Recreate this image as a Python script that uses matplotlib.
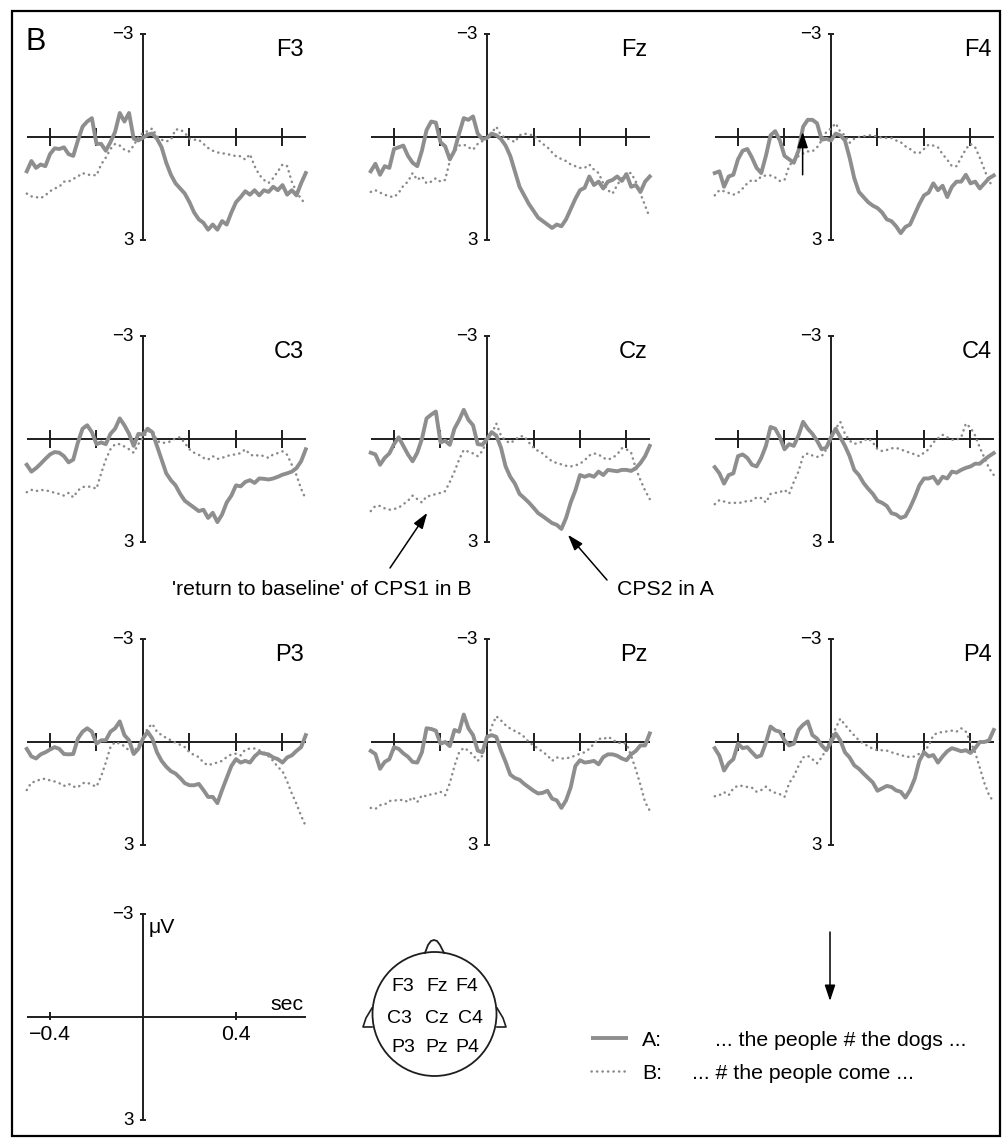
import numpy as np
import matplotlib.pyplot as plt
from matplotlib.patches import Circle, Rectangle

plt.rcParams['font.family'] = ['Liberation Sans', 'DejaVu Sans']

W, H = 1003, 1138

# sampling times in seconds (20 ms steps), amplitudes in microvolts (negative up)
time_s = np.round(np.arange(-0.50, 0.701, 0.02), 2)

electrodes = [["F3", "Fz", "F4"], ["C3", "Cz", "C4"], ["P3", "Pz", "P4"]]

f3_a = [1.0, 0.7, 0.9, 0.8, 0.85, 0.5, 0.33, 0.35, 0.3, 0.5,
        0.55, 0.1, -0.3, -0.45, -0.55, 0.2, 0.2, 0.4, 0.15, -0.15,
        -0.7, -0.45, -0.7, 0.05, 0.1, 0.02, -0.07, -0.1, 0.05, 0.3,
        0.75, 1.1, 1.35, 1.5, 1.65, 1.9, 2.2, 2.4, 2.5, 2.7,
        2.55, 2.7, 2.45, 2.55, 2.2, 1.9, 1.75, 1.58, 1.68, 1.55,
        1.7, 1.55, 1.6, 1.45, 1.55, 1.4, 1.68, 1.55, 1.7, 1.35,
        1.05]
f3_b = [1.65, 1.73, 1.75, 1.78, 1.7, 1.58, 1.5, 1.45, 1.3, 1.3,
        1.22, 1.15, 1.05, 1.1, 1.1, 1.12, 0.8, 0.6, 0.35, 0.2,
        0.25, 0.37, 0.42, 0.25, 0.0, -0.12, -0.17, -0.25, -0.02, 0.08,
        0.13, 0.08, -0.22, -0.22, -0.12, 0.05, 0.08, 0.08, 0.2, 0.32,
        0.4, 0.45, 0.47, 0.5, 0.52, 0.56, 0.56, 0.66, 0.5, 0.85,
        1.1, 1.25, 1.34, 1.2, 1.0, 0.8, 0.85, 1.3, 1.6, 1.8,
        1.97]
fz_a = [1.0, 0.78, 1.1, 0.85, 0.9, 0.35, 0.3, 0.25, 0.55, 0.75,
        0.85, 0.4, -0.2, -0.45, -0.42, 0.15, 0.27, 0.65, 0.4, -0.1,
        -0.55, -0.5, -0.6, -0.1, 0.06, 0.03, -0.1, -0.05, 0.06, 0.25,
        0.55, 1.0, 1.45, 1.7, 1.95, 2.15, 2.35, 2.45, 2.55, 2.65,
        2.55, 2.6, 2.4, 2.1, 1.8, 1.55, 1.48, 1.15, 1.4, 1.3,
        1.5, 1.3, 1.25, 1.15, 1.28, 1.08, 1.45, 1.4, 1.6, 1.3,
        1.15]
fz_b = [1.6, 1.55, 1.62, 1.68, 1.73, 1.75, 1.63, 1.42, 1.3, 1.05,
        1.25, 1.15, 1.35, 1.3, 1.2, 1.3, 1.25, 0.7, 0.42, 0.25,
        0.22, 0.3, 0.37, 0.2, 0.12, 0.03, -0.12, -0.3, -0.05, 0.02,
        0.08, 0.15, -0.05, -0.1, -0.07, -0.05, 0.08, 0.2, 0.3, 0.45,
        0.58, 0.64, 0.7, 0.8, 0.85, 0.9, 0.9, 0.8, 0.95, 1.05,
        1.35, 1.55, 1.65, 1.4, 1.2, 1.05, 1.05, 1.3, 1.65, 2.0,
        2.35]
f4_a = [1.05, 1.0, 1.45, 1.15, 1.1, 0.65, 0.4, 0.35, 0.6, 0.9,
        1.05, 0.55, -0.05, -0.17, 0.1, 0.55, 0.65, 0.75, 0.4, -0.3,
        -0.5, -0.5, -0.4, 0.08, 0.05, 0.1, -0.1, -0.05, 0.1, 0.6,
        1.2, 1.6, 1.75, 1.9, 2.0, 2.07, 2.2, 2.4, 2.45, 2.6,
        2.8, 2.62, 2.55, 2.25, 1.95, 1.7, 1.62, 1.35, 1.55, 1.42,
        1.75, 1.45, 1.3, 1.3, 1.1, 1.35, 1.3, 1.5, 1.35, 1.2,
        1.12]
f4_b = [1.7, 1.55, 1.58, 1.63, 1.68, 1.63, 1.5, 1.35, 1.25, 1.28,
        1.15, 1.12, 1.12, 1.18, 1.28, 1.25, 0.85, 0.66, 0.56, 0.48,
        0.42, 0.42, 0.3, 0.1, -0.15, -0.25, -0.4, -0.15, -0.05, 0.17,
        0.05, 0.0, -0.02, -0.05, -0.05, 0.0, 0.02, 0.03, 0.03, 0.1,
        0.15, 0.27, 0.35, 0.45, 0.47, 0.35, 0.22, 0.25, 0.3, 0.5,
        0.66, 0.85, 0.85, 0.6, 0.35, 0.2, 0.3, 0.6, 0.95, 1.3,
        1.45]
c3_a = [0.75, 0.95, 0.85, 0.72, 0.58, 0.45, 0.38, 0.4, 0.5, 0.68,
        0.6, 0.1, -0.3, -0.4, -0.2, 0.15, 0.1, 0.15, -0.15, -0.3,
        -0.6, -0.4, -0.15, 0.2, -0.15, -0.13, -0.3, -0.2, 0.2, 0.6,
        1.0, 1.2, 1.35, 1.6, 1.8, 1.9, 2.0, 2.1, 2.06, 2.3,
        2.15, 2.42, 2.2, 1.85, 1.65, 1.35, 1.38, 1.25, 1.2, 1.28,
        1.15, 1.16, 1.18, 1.15, 1.1, 1.04, 1.0, 0.95, 0.85, 0.65,
        0.3]
c3_b = [1.55, 1.48, 1.52, 1.48, 1.5, 1.52, 1.57, 1.6, 1.65, 1.57,
        1.7, 1.5, 1.4, 1.38, 1.4, 1.45, 1.0, 0.6, 0.3, 0.15,
        0.15, 0.22, 0.3, 0.4, 0.15, -0.05, -0.2, -0.25, 0.05, 0.12,
        0.1, 0.07, -0.03, -0.05, 0.12, 0.3, 0.4, 0.46, 0.55, 0.6,
        0.5, 0.58, 0.55, 0.5, 0.46, 0.45, 0.41, 0.3, 0.45, 0.5,
        0.46, 0.5, 0.55, 0.45, 0.41, 0.36, 0.46, 0.75, 1.05, 1.45,
        1.75]
cz_a = [0.4, 0.45, 0.75, 0.55, 0.42, 0.15, -0.05, 0.2, 0.45, 0.65,
        0.4, 0.0, -0.6, -0.71, -0.8, 0.1, 0.05, 0.17, -0.3, -0.55,
        -0.85, -0.56, -0.4, 0.15, 0.17, 0.0, -0.2, -0.1, 0.25, 0.8,
        1.1, 1.3, 1.6, 1.72, 1.85, 2.0, 2.16, 2.25, 2.35, 2.45,
        2.5, 2.62, 2.3, 1.85, 1.5, 1.05, 1.1, 1.05, 1.1, 0.95,
        1.05, 0.9, 0.92, 0.94, 0.9, 0.9, 0.93, 0.85, 0.7, 0.5,
        0.2]
cz_b = [2.1, 1.95, 1.95, 2.02, 2.06, 2.04, 2.0, 1.9, 1.8, 1.65,
        1.75, 1.85, 1.67, 1.65, 1.6, 1.57, 1.52, 1.25, 0.95, 0.6,
        0.32, 0.37, 0.42, 0.5, 0.35, 0.05, -0.15, -0.45, -0.1, 0.05,
        0.12, 0.03, -0.08, -0.08, 0.1, 0.25, 0.35, 0.42, 0.55, 0.65,
        0.7, 0.74, 0.78, 0.8, 0.77, 0.72, 0.62, 0.48, 0.42, 0.45,
        0.55, 0.6, 0.55, 0.45, 0.27, 0.3, 0.4, 0.85, 1.2, 1.5,
        1.75]
c4_a = [0.82, 1.0, 1.3, 1.05, 1.0, 0.5, 0.45, 0.55, 0.75, 0.8,
        0.55, 0.2, -0.35, -0.3, -0.05, 0.3, 0.15, 0.2, -0.1, -0.5,
        -0.3, -0.15, 0.05, 0.3, 0.25, -0.05, -0.3, -0.05, 0.2, 0.5,
        0.9, 1.05, 1.28, 1.45, 1.6, 1.8, 1.86, 1.95, 2.16, 2.2,
        2.3, 2.25, 2.0, 1.7, 1.35, 1.15, 1.15, 1.1, 1.3, 1.1,
        1.15, 0.95, 0.98, 0.9, 0.84, 0.8, 0.72, 0.72, 0.6, 0.5,
        0.41]
c4_b = [1.9, 1.78, 1.82, 1.86, 1.86, 1.86, 1.85, 1.8, 1.8, 1.7,
        1.72, 1.85, 1.6, 1.57, 1.55, 1.48, 1.6, 1.25, 0.95, 0.5,
        0.42, 0.48, 0.52, 0.5, 0.3, 0.02, -0.3, -0.5, -0.15, 0.05,
        0.14, 0.12, 0.05, -0.02, 0.1, 0.3, 0.35, 0.32, 0.27, 0.26,
        0.3, 0.36, 0.4, 0.45, 0.5, 0.4, 0.3, 0.1, -0.02, -0.12,
        -0.05, 0.02, 0.02, -0.05, -0.45, -0.33, -0.1, 0.25, 0.55, 0.85,
        1.05]
p3_a = [0.2, 0.42, 0.48, 0.36, 0.3, 0.22, 0.15, 0.2, 0.35, 0.36,
        0.35, -0.1, -0.3, -0.4, -0.3, 0.05, -0.05, -0.05, -0.3, -0.4,
        -0.6, -0.2, -0.05, 0.35, 0.2, -0.1, -0.3, -0.1, 0.3, 0.55,
        0.72, 0.85, 0.92, 1.05, 1.2, 1.26, 1.26, 1.22, 1.4, 1.6,
        1.6, 1.78, 1.4, 1.05, 0.7, 0.5, 0.6, 0.55, 0.6, 0.42,
        0.3, 0.34, 0.36, 0.45, 0.5, 0.6, 0.45, 0.39, 0.26, 0.15,
        -0.2]
p3_b = [1.4, 1.18, 1.15, 1.08, 1.07, 1.12, 1.15, 1.2, 1.28, 1.22,
        1.3, 1.32, 1.2, 1.18, 1.25, 1.3, 1.0, 0.6, 0.15, 0.0,
        0.05, 0.12, 0.25, 0.3, 0.1, -0.1, -0.4, -0.53, -0.3, -0.2,
        -0.12, -0.05, 0.02, 0.08, 0.15, 0.3, 0.38, 0.44, 0.6, 0.68,
        0.63, 0.6, 0.55, 0.44, 0.36, 0.34, 0.39, 0.22, 0.19, 0.19,
        0.24, 0.3, 0.42, 0.55, 0.73, 0.85, 1.15, 1.5, 1.8, 2.15,
        2.45]
pz_a = [0.26, 0.35, 0.78, 0.58, 0.5, 0.15, 0.2, 0.33, 0.43, 0.58,
        0.6, 0.3, -0.4, -0.38, -0.33, 0.05, 0.0, 0.12, -0.35, -0.3,
        -0.8, -0.4, -0.2, 0.25, 0.3, -0.15, -0.2, -0.15, 0.25, 0.58,
        0.95, 1.05, 1.1, 1.22, 1.32, 1.42, 1.5, 1.48, 1.42, 1.65,
        1.7, 1.92, 1.7, 1.32, 0.7, 0.53, 0.6, 0.58, 0.55, 0.65,
        0.44, 0.36, 0.36, 0.4, 0.48, 0.53, 0.36, 0.26, 0.1, 0.1,
        -0.25]
pz_b = [1.92, 1.95, 1.84, 1.82, 1.72, 1.7, 1.7, 1.68, 1.75, 1.6,
        1.75, 1.55, 1.58, 1.52, 1.5, 1.45, 1.55, 1.2, 0.7, 0.3,
        0.17, 0.25, 0.38, 0.55, 0.4, -0.05, -0.45, -0.75, -0.63, -0.49,
        -0.39, -0.32, -0.25, -0.15, 0.0, 0.1, 0.19, 0.29, 0.39, 0.55,
        0.45, 0.48, 0.48, 0.44, 0.4, 0.34, 0.3, 0.2, 0.05, -0.1,
        -0.08, -0.15, -0.08, 0.03, 0.02, 0.05, 0.4, 0.8, 1.25, 1.75,
        2.0]
p4_a = [0.18, 0.4, 0.83, 0.62, 0.5, 0.05, 0.18, 0.15, 0.3, 0.44,
        0.39, 0.02, -0.45, -0.34, -0.3, -0.05, 0.1, 0.05, -0.35, -0.5,
        -0.6, -0.2, -0.1, 0.1, 0.24, 0.0, -0.25, -0.05, 0.3, 0.45,
        0.68, 0.78, 0.92, 1.05, 1.18, 1.42, 1.35, 1.28, 1.31, 1.41,
        1.45, 1.62, 1.4, 1.07, 0.55, 0.3, 0.42, 0.38, 0.6, 0.42,
        0.27, 0.18, 0.22, 0.27, 0.24, 0.32, 0.18, 0.0, 0.0, -0.05,
        -0.35]
p4_b = [1.58, 1.55, 1.46, 1.55, 1.35, 1.27, 1.28, 1.31, 1.33, 1.45,
        1.4, 1.3, 1.42, 1.48, 1.52, 1.6, 1.2, 1.0, 0.7, 0.45,
        0.4, 0.5, 0.62, 0.45, 0.2, -0.12, -0.4, -0.68, -0.5, -0.34,
        -0.19, -0.05, 0.05, 0.12, 0.2, 0.24, 0.24, 0.25, 0.3, 0.34,
        0.38, 0.42, 0.44, 0.42, 0.34, 0.25, 0.12, -0.2, -0.27, -0.29,
        -0.31, -0.33, -0.3, -0.4, -0.3, 0.0, 0.3, 0.75, 1.2, 1.55,
        1.75]

cond_a = {"F3": f3_a, "Fz": fz_a, "F4": f4_a, "C3": c3_a, "Cz": cz_a,
          "C4": c4_a, "P3": p3_a, "Pz": pz_a, "P4": p4_a}
cond_b = {"F3": f3_b, "Fz": fz_b, "F4": f4_b, "C3": c3_b, "Cz": cz_b,
          "C4": c4_b, "P3": p3_b, "Pz": pz_b, "P4": p4_b}

x_ticks = [-0.4, -0.2, 0.2, 0.4, 0.6]

# layout (pixels)
PX_PER_S = 232.5
PX_PER_UV = 34.33
COL_X0 = [143, 487, 831]
ROW_Y0 = [137, 439, 742]
T_MIN, T_MAX = -0.5, 0.7

AXIS_COLOR = "#1e1e1e"
GRAY_A = "#8e8e8e"
GRAY_B = "#8a8a8a"
TEXT_SIZE = 15.3
TICK_SIZE = 13.5


def panel_axes(fig, x0, y0):
    left = x0 + T_MIN * PX_PER_S
    width = (T_MAX - T_MIN) * PX_PER_S
    bottom = y0 + 3 * PX_PER_UV
    ax = fig.add_axes([left / W, 1 - bottom / H, width / W, 6 * PX_PER_UV / H])
    ax.set_xlim(T_MIN, T_MAX)
    ax.set_ylim(3, -3)
    ax.axis("off")
    return ax


def draw_axes(ax, ticks, tick_len=(-0.25, 0.27)):
    kw = dict(color=AXIS_COLOR, lw=1.4, clip_on=False, zorder=1,
              solid_capstyle="butt")
    ax.plot([T_MIN, T_MAX], [0, 0], **kw)
    ax.plot([0, 0], [-3, 3], **kw)
    for t in ticks:
        ax.plot([t, t], list(tick_len), **kw)
    for v in (-3, 3):
        ax.plot([-0.014, 0.014], [v, v], **kw)
    ax.text(-0.042, -2.85, "\u22123", ha="right", va="baseline",
            fontsize=TICK_SIZE)
    ax.text(-0.042, 3.15, "3", ha="right", va="baseline", fontsize=TICK_SIZE)


fig = plt.figure(figsize=(W / 100, H / 100), dpi=100)

# full-figure overlay in pixel units for frame, annotations and legend
ov = fig.add_axes([0, 0, 1, 1])
ov.set_xlim(0, W)
ov.set_ylim(H, 0)
ov.axis("off")
ov.add_patch(Rectangle((12, 11), 988, 1125, fill=False, lw=1.6,
                       edgecolor="black"))
ov.text(26, 50, "B", fontsize=22, ha="left", va="baseline")

axes = {}
for r, row in enumerate(electrodes):
    for c, name in enumerate(row):
        ax = panel_axes(fig, COL_X0[c], ROW_Y0[r])
        draw_axes(ax, x_ticks)
        ax.plot(time_s, cond_b[name], color=GRAY_B, lw=1.8,
                linestyle=(0, (0.1, 2.1)), dash_capstyle="round",
                clip_on=False, zorder=2)
        ax.plot(time_s, cond_a[name], color=GRAY_A, lw=2.8,
                solid_joinstyle="round", clip_on=False, zorder=3)
        ax.text(0.69, -2.36, name, ha="right", va="baseline", fontsize=17)
        axes[name] = ax

arrow_kw = dict(arrowstyle="-|>,head_length=0.6,head_width=0.2",
                color="black", lw=1.1, shrinkA=0, shrinkB=0,
                mutation_scale=16)

# marker arrow in F4
axes["F4"].annotate("", xy=(-0.122, -0.15), xytext=(-0.122, 1.1),
                    arrowprops=arrow_kw, annotation_clip=False)

# annotations pointing into Cz
ov.text(172, 595, "'return to baseline' of CPS1 in B", fontsize=TEXT_SIZE,
        ha="left", va="baseline")
ov.text(617, 595, "CPS2 in A", fontsize=TEXT_SIZE, ha="left", va="baseline")
axes["Cz"].annotate("", xy=(-0.257, 2.15), xytext=(390, 568),
                    textcoords=ov.transData, arrowprops=arrow_kw,
                    annotation_clip=False)
axes["Cz"].annotate("", xy=(0.348, 2.79), xytext=(607, 580),
                    textcoords=ov.transData, arrowprops=arrow_kw,
                    annotation_clip=False)

# calibration axes
cal = panel_axes(fig, 143, 1017)
draw_axes(cal, [-0.4, 0.4], tick_len=(-0.15, 0.1))
cal.text(-0.4, 0.68, "\u22120.4", ha="center", va="baseline",
         fontsize=TEXT_SIZE)
cal.text(0.4, 0.68, "0.4", ha="center", va="baseline", fontsize=TEXT_SIZE)
cal.text(0.69, -0.2, "sec", ha="right", va="baseline", fontsize=TEXT_SIZE)
cal.text(0.025, -2.45, "\u03bcV", ha="left", va="baseline",
         fontsize=TEXT_SIZE)

# electrode map
ov.add_patch(Circle((434.5, 1014), 62, fill=False, lw=1.3,
                    edgecolor=AXIS_COLOR))
ov.plot([425, 428, 431, 434, 437, 440, 444],
        [953, 945, 941, 940, 941, 945, 953], color=AXIS_COLOR, lw=1.3)
ov.plot([372, 366, 363, 372], [1008, 1018, 1027, 1027],
        color=AXIS_COLOR, lw=1.2)
ov.plot([497, 503, 506, 497], [1008, 1018, 1027, 1027],
        color=AXIS_COLOR, lw=1.2)
map_x = [[403, 437, 467], [399, 437, 471], [403, 437, 467]]
map_y = [991, 1023, 1052]
for r, row in enumerate(electrodes):
    for c, name in enumerate(row):
        ov.text(map_x[r][c], map_y[r], name, ha="center", va="baseline",
                fontsize=14)

# legend
ov.plot([591, 628], [1038, 1038], color=GRAY_A, lw=2.8,
        solid_capstyle="butt")
ov.plot([591, 628], [1071, 1071], color=GRAY_B, lw=1.8,
        linestyle=(0, (0.1, 2.1)), dash_capstyle="round")
ov.text(642, 1046, "A:", fontsize=TEXT_SIZE, ha="left", va="baseline")
ov.text(642, 1079, "B:", fontsize=TEXT_SIZE, ha="left", va="baseline")
ov.text(715, 1046, "... the people # the dogs ...", fontsize=TEXT_SIZE,
        ha="left", va="baseline")
ov.text(692, 1079, "... # the people come ...", fontsize=TEXT_SIZE,
        ha="left", va="baseline")
ov.annotate("", xy=(830, 1001), xytext=(830, 932), arrowprops=arrow_kw)

fig.savefig("out.png", dpi=100)
